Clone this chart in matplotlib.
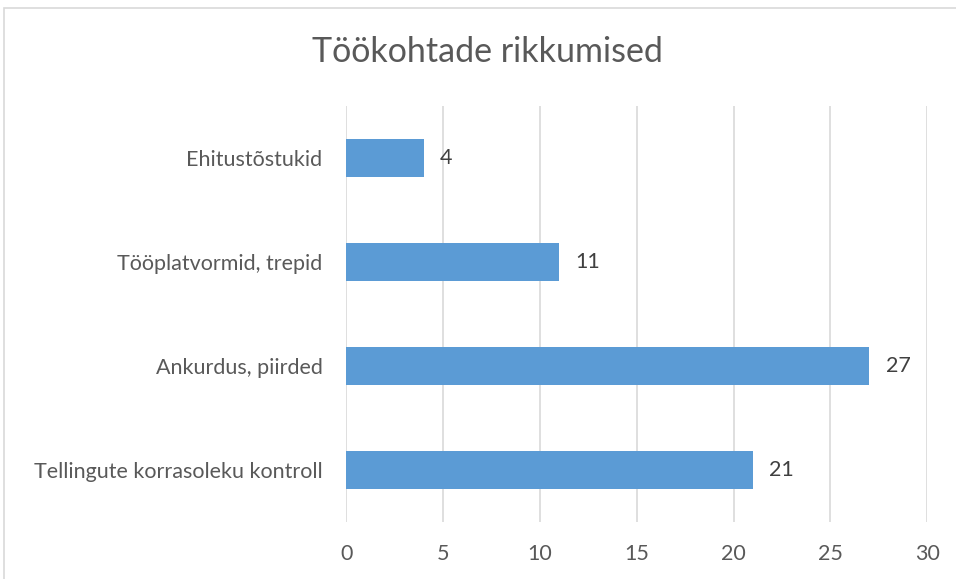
import matplotlib
matplotlib.use("Agg")
import matplotlib.pyplot as plt
from matplotlib.patches import Rectangle

categories = ["Tellingute korrasoleku kontroll", "Ankurdus, piirded",
              "Tööplatvormid, trepid", "Ehitustõstukid"]
values = [21, 27, 11, 4]
xticks = [0, 5, 10, 15, 20, 25, 30]

plt.rcParams['font.family'] = ['Lato', 'DejaVu Sans']
txt = '#595959'

fig = plt.figure(figsize=(9.56, 5.79), dpi=100)
ax = fig.add_axes([0.362, 0.0984, 0.608, 0.7186])

# chart border (cropped on the right and bottom)
fig.patches.append(Rectangle((4/956, -0.1), 1.2, 1 - 8/579 + 0.1,
                             transform=fig.transFigure, fill=False,
                             edgecolor='#D9D9D9', lw=1.2))

y = range(len(categories))
ax.barh(y, values, height=0.36, color='#5B9BD5', zorder=3)
for yi, v in zip(y, values):
    ax.text(v + 0.85, yi, str(v), va='center', ha='left', fontsize=15.5, color='#404040')

ax.set_xlim(0, 30)
ax.set_ylim(-0.5, 3.5)
ax.set_xticks(xticks)
ax.set_yticks(list(y))
ax.set_yticklabels(categories)
ax.grid(axis='x', color='#D9D9D9', lw=1.2, zorder=0)
for s in ax.spines.values():
    s.set_visible(False)
ax.tick_params(length=0, labelsize=15.5, colors=txt)
ax.tick_params(axis='x', pad=16)
ax.tick_params(axis='y', pad=17)

fig.text(0.51, 1 - 52/579, "Töökohtade rikkumised", ha='center', va='center',
         fontsize=24.5, color=txt)

fig.savefig('out.png', dpi=100)
